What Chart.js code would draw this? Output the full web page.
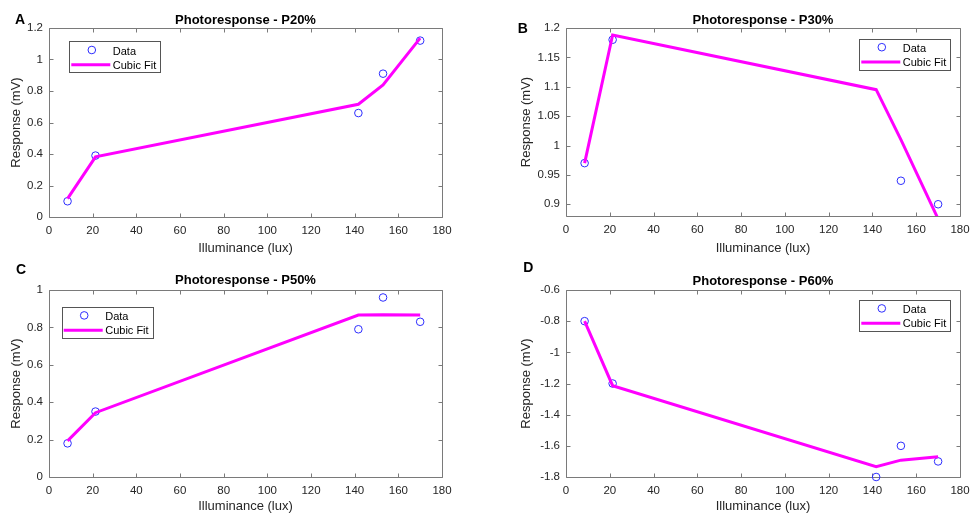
<!DOCTYPE html>
<html>
<head>
<meta charset="utf-8">
<script src="https://cdn.jsdelivr.net/npm/chart.js@4/dist/chart.umd.min.js"></script>
<style>
html,body{margin:0;padding:0;background:#ffffff;}
#wrap{position:relative;width:971px;height:516px;overflow:hidden;background:#ffffff;}
canvas{position:absolute;}
</style>
</head>
<body>
<div id="wrap">
<canvas id="cA" width="486" height="258" style="left:0px;top:0px"></canvas>
<canvas id="cB" width="485" height="258" style="left:486px;top:0px"></canvas>
<canvas id="cC" width="486" height="258" style="left:0px;top:258px"></canvas>
<canvas id="cD" width="485" height="258" style="left:486px;top:258px"></canvas>
</div>
<script>
// ---------- data ----------
const illuminance = [8.5, 21.3, 141.7, 153, 170];
const xTickValues = [0, 20, 40, 60, 80, 100, 120, 140, 160, 180];

const dataP20 = [0.10, 0.39, 0.66, 0.91, 1.12];
const fitP20  = [0.117, 0.382, 0.716, 0.839, 1.136];
const yTicksP20 = [0, 0.2, 0.4, 0.6, 0.8, 1, 1.2];

const dataP30 = [0.97, 1.18, null, 0.94, 0.90];
const fitP30  = [0.97, 1.188, 1.095, 1.01, 0.875];
const yTicksP30 = [0.9, 0.95, 1, 1.05, 1.1, 1.15, 1.2];

const dataP50 = [0.18, 0.35, 0.79, 0.96, 0.83];
const fitP50  = [0.193, 0.344, 0.866, 0.868, 0.866];
const yTicksP50 = [0, 0.2, 0.4, 0.6, 0.8, 1];

const dataP60 = [-0.80, -1.20, -1.80, -1.60, -1.70];
const fitP60  = [-0.80, -1.214, -1.734, -1.692, -1.670];
const yTicksP60 = [-1.8, -1.6, -1.4, -1.2, -1, -0.8, -0.6];

const panelTitles = ['Photoresponse - P20%', 'Photoresponse - P30%', 'Photoresponse - P50%', 'Photoresponse - P60%'];
const panelLetters = ['A', 'B', 'C', 'D'];
const legendLabels = ['Data', 'Cubic Fit'];
const xAxisTitle = 'Illuminance (lux)';
const yAxisTitle = 'Response (mV)';

// ---------- styles ----------
const FONT = '"Liberation Sans", Arial, Helvetica, sans-serif';
const BLUE = 'rgb(45,45,255)';
const MAGENTA = '#ff00ff';
const AXIS = '#7a7a7a';
const TEXT = '#262626';
const H = 258;

const panels = [
  {id:'cA', w:486, data:dataP20, fit:fitP20, yTicks:yTicksP20, yMin:0,    yMax:1.2,
   area:{left:49, right:442, top:28, bottom:217}, yTitleX:16.7, titleY:20,  letter:[20,20],   legend:[69.3,41.3]},
  {id:'cB', w:485, data:dataP30, fit:fitP30, yTicks:yTicksP30, yMin:0.88, yMax:1.2,
   area:{left:80, right:474, top:28, bottom:216}, yTitleX:40,   titleY:20,  letter:[36.7,28.7], legend:[373.3,38.5]},
  {id:'cC', w:486, data:dataP50, fit:fitP50, yTicks:yTicksP50, yMin:0,    yMax:1,
   area:{left:49, right:442, top:32, bottom:219}, yTitleX:16.3, titleY:22.7, letter:[21,11.7], legend:[61.7,48.7]},
  {id:'cD', w:485, data:dataP60, fit:fitP60, yTicks:yTicksP60, yMin:-1.8, yMax:-0.6,
   area:{left:80, right:474, top:32, bottom:219}, yTitleX:40,   titleY:23.3, letter:[42.3,10],  legend:[373.3,41.7]}
];

const fmt = v => String(+Number(v).toFixed(4));

const boxPlugin = {
  id: 'boxTicks',
  beforeDatasetsDraw(chart) {
    const {ctx, chartArea: a, scales: {x, y}} = chart;
    ctx.save();
    ctx.strokeStyle = AXIS;
    ctx.lineWidth = 1;
    const L = Math.round(a.left) + 0.5, R = Math.round(a.right) + 0.5;
    const T = Math.round(a.top) + 0.5, B = Math.round(a.bottom) + 0.5;
    ctx.beginPath();
    ctx.rect(L, T, R - L, B - T);
    const tl = 4;
    x.ticks.forEach(t => {
      const px = Math.round(x.getPixelForValue(t.value)) + 0.5;
      ctx.moveTo(px, B); ctx.lineTo(px, B - tl);
      ctx.moveTo(px, T); ctx.lineTo(px, T + tl);
    });
    y.ticks.forEach(t => {
      const py = Math.round(y.getPixelForValue(t.value)) + 0.5;
      ctx.moveTo(L, py); ctx.lineTo(L + tl, py);
      ctx.moveTo(R, py); ctx.lineTo(R - tl, py);
    });
    ctx.stroke();
    ctx.restore();
  },
  afterDraw(chart, args, opts) {
    const {ctx, chartArea: a} = chart;
    const p = opts.panel;
    ctx.save();
    // title
    ctx.fillStyle = '#000';
    ctx.font = 'bold 13px ' + FONT;
    ctx.textAlign = 'center';
    ctx.textBaseline = 'middle';
    ctx.fillText(opts.title, (a.left + a.right) / 2, p.titleY);
    // panel letter
    ctx.font = 'bold 14px ' + FONT;
    ctx.fillText(opts.letter, p.letter[0], p.letter[1]);
    // legend
    const [Lx, Ty] = p.legend;
    const bw = 91, bh = 31;
    ctx.fillStyle = '#fff';
    ctx.fillRect(Math.round(Lx), Math.round(Ty), bw, bh);
    ctx.strokeStyle = '#555';
    ctx.lineWidth = 1;
    ctx.strokeRect(Math.round(Lx) + 0.5, Math.round(Ty) + 0.5, bw, bh);
    ctx.beginPath();
    ctx.arc(Lx + 22.5, Ty + 8.7, 3.8, 0, Math.PI * 2);
    ctx.strokeStyle = BLUE;
    ctx.lineWidth = 1;
    ctx.stroke();
    ctx.beginPath();
    ctx.moveTo(Lx + 2, Ty + 23.5);
    ctx.lineTo(Lx + 41, Ty + 23.5);
    ctx.strokeStyle = MAGENTA;
    ctx.lineWidth = 3;
    ctx.stroke();
    ctx.fillStyle = '#000';
    ctx.font = '11px ' + FONT;
    ctx.textAlign = 'left';
    ctx.textBaseline = 'middle';
    ctx.fillText(legendLabels[0], Lx + 43.5, Ty + 10.2);
    ctx.fillText(legendLabels[1], Lx + 43.5, Ty + 24.2);
    ctx.restore();
  }
};

panels.forEach((p, i) => {
  const pts = illuminance.map((xv, k) => ({x: xv, y: p.data[k]})).filter(o => o.y !== null);
  const fitPts = illuminance.map((xv, k) => ({x: xv, y: p.fit[k]}));
  const a = p.area;
  new Chart(document.getElementById(p.id), {
    type: 'scatter',
    data: {
      datasets: [
        {label: legendLabels[1], type: 'line', data: fitPts, borderColor: MAGENTA, borderWidth: 3,
         pointRadius: 0, tension: 0, fill: false, order: 0, clip: 0},
        {label: legendLabels[0], data: pts, pointStyle: 'circle', pointRadius: 3.8,
         borderColor: BLUE, backgroundColor: 'rgba(0,0,0,0)', borderWidth: 1, order: 1, clip: false}
      ]
    },
    options: {
      responsive: false,
      animation: false,
      devicePixelRatio: 1,
      layout: {padding: {left: 0, top: a.top, right: p.w - a.right, bottom: 0}},
      plugins: {
        legend: {display: false},
        title: {display: false},
        tooltip: {enabled: false},
        boxTicks: {title: panelTitles[i], letter: panelLetters[i], panel: p}
      },
      scales: {
        x: {
          type: 'linear', min: 0, max: 180,
          afterBuildTicks: s => { s.ticks = xTickValues.map(v => ({value: v})); },
          afterFit: s => { s.height = H - a.bottom; s.paddingLeft = 0; s.paddingRight = 0; },
          grid: {display: false, drawTicks: false},
          border: {display: false},
          ticks: {padding: 7, color: TEXT, font: {family: FONT, size: 11.5}, autoSkip: false, maxRotation: 0, callback: fmt},
          title: {display: true, text: xAxisTitle, color: TEXT, font: {family: FONT, size: 13}, padding: {top: 0, bottom: 2}}
        },
        y: {
          type: 'linear', min: p.yMin, max: p.yMax,
          afterBuildTicks: s => { s.ticks = p.yTicks.map(v => ({value: v})); },
          afterFit: s => { s.width = a.left; s.paddingTop = 0; s.paddingBottom = 0; },
          grid: {display: false, drawTicks: false},
          border: {display: false},
          ticks: {padding: 6, color: TEXT, font: {family: FONT, size: 11.5}, autoSkip: false, callback: fmt},
          title: {display: true, text: yAxisTitle, color: TEXT, font: {family: FONT, size: 13}, padding: {top: p.yTitleX - 7.8, bottom: 0}}
        }
      }
    },
    plugins: [boxPlugin]
  });
});
</script>
</body>
</html>
